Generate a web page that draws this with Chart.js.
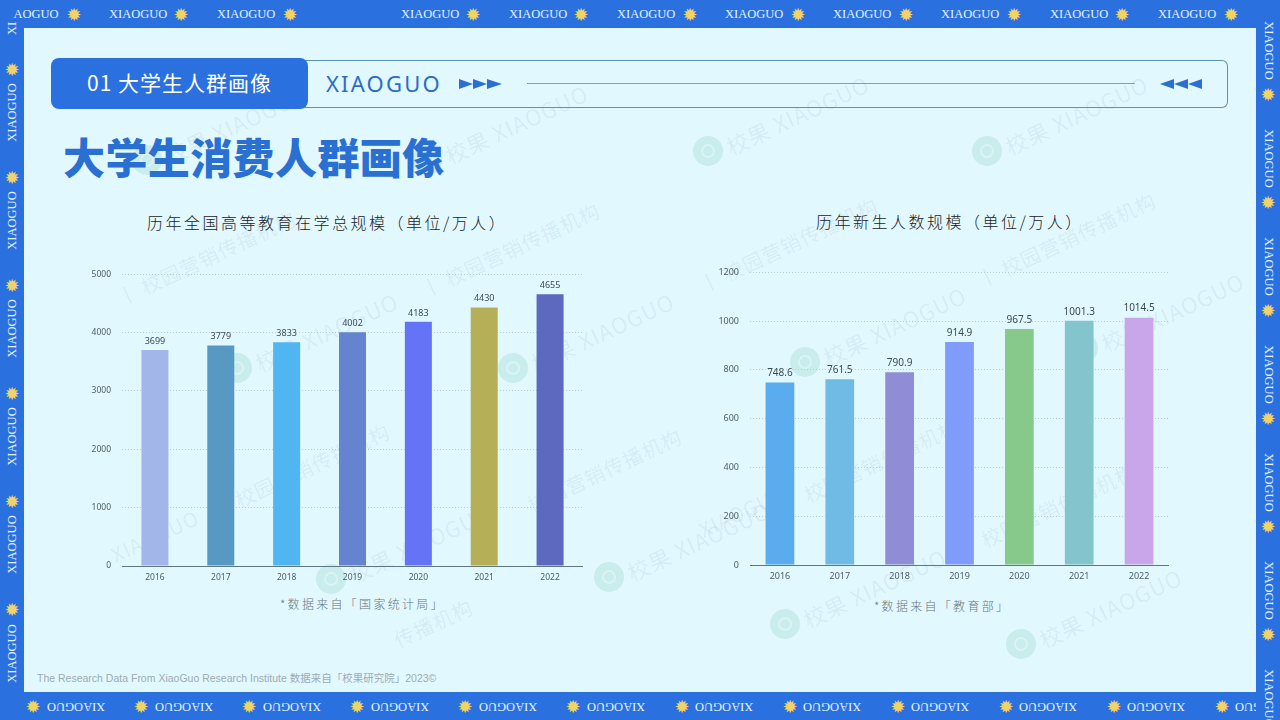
<!DOCTYPE html>
<html lang="zh">
<head>
<meta charset="utf-8">
<title>大学生消费人群画像</title>
<script src="https://cdn.jsdelivr.net/npm/chart.js@4"></script>
<style>
  html, body { margin: 0; padding: 0; }
  body { width: 1280px; height: 720px; overflow: hidden; position: relative; background: #2b70df;
         font-family: "Noto Sans CJK SC", "Noto Sans", sans-serif; }
  .abs { position: absolute; white-space: nowrap; }
  #panel { left: 24px; top: 28px; width: 1232px; height: 664px; background: #e2f8ff; }
  #bottomBand { left: 0; top: 692px; width: 1256px; height: 28px; overflow: hidden; }
  .tag { position: absolute; font: 12.5px "Liberation Serif", serif; color: #e4f4ff; white-space: nowrap; transform-origin: center; }
  .star { position: absolute; font: 18px "DejaVu Sans", sans-serif; color: #f1d468; transform-origin: center; }
  .mark { position: absolute; white-space: nowrap; font-size: 22px; color: rgba(95, 125, 140, 0.1); transform: rotate(-25deg); transform-origin: left center; letter-spacing: 1px; }
  .mark.long { font-size: 20px; }
  .logo { position: absolute; width: 30px; height: 30px; border-radius: 50%; background: rgba(105, 190, 165, 0.2); }
  .logo::after { content: ""; position: absolute; left: 8px; top: 8px; width: 10px; height: 10px; border: 2px solid rgba(230, 250, 250, 0.6); border-radius: 50%; }
  #pill { left: 51px; top: 58px; width: 257px; height: 51px; background: #2b70df; border-radius: 8px; color: #fff; font-size: 21px; letter-spacing: 1px; line-height: 49px; text-align: center; }
  #frame { left: 300px; top: 60px; width: 927px; height: 46px; border: 1px solid #5b93b4; border-radius: 6px; border-left: none; border-top-left-radius: 0; border-bottom-left-radius: 0; }
  #brand { left: 326px; top: 68px; font: 400 22px "Noto Sans", sans-serif; letter-spacing: 2.2px; color: #2c6cc6; }
  #rule { left: 527px; top: 83px; width: 608px; height: 1px; background: #67a9c8; }
  #heading { left: 63px; top: 128px; font-size: 42px; font-weight: 900; line-height: 56px; color: #2a6fd2; letter-spacing: 0.4px; }
  .chartTitle { font-size: 16px; font-weight: 300; color: #1a2226; letter-spacing: 2.5px; line-height: 22px; }
  .source { font-size: 12px; font-weight: 300; color: #68767d; letter-spacing: 2.3px; line-height: 18px; }
  #footer { left: 37px; top: 671px; font: 10.5px "Liberation Sans", "Noto Sans CJK SC", sans-serif; color: #9cabb3; line-height: 14px; }
  canvas { position: absolute; }
</style>
</head>
<body>
<div id="panel" class="abs"></div>
<div id="bottomBand" class="abs"></div>
<div id="marks"></div>

<div id="frame" class="abs"></div>
<div id="pill" class="abs">01 大学生人群画像</div>
<div id="brand" class="abs">XIAOGUO</div>
<div id="rule" class="abs"></div>
<svg class="abs" style="left:0;top:0" width="1280" height="120">
  <g fill="#2c6fd0">
    <path d="M459 79l14 5-14 5z M473 79l14 5-14 5z M487 79l15 5-15 5z"/>
    <path d="M1174 79l-14 5 14 5z M1188 79l-14 5 14 5z M1202 79l-14 5 14 5z"/>
  </g>
</svg>
<div id="heading" class="abs">大学生消费人群画像</div>

<div class="abs chartTitle" style="left:147px;top:211px">历年全国高等教育在学总规模（单位/万人）</div>
<div class="abs chartTitle" style="left:816px;top:210px">历年新生人数规模（单位/万人）</div>
<canvas id="studentsChart" width="493" height="332" style="left:90px;top:258px"></canvas>
<canvas id="freshmenChart" width="451" height="333" style="left:718px;top:256px"></canvas>
<div class="abs source" style="left:280px;top:595px">*数据来自「国家统计局」</div>
<div class="abs source" style="left:874px;top:597px">*数据来自「教育部」</div>
<div id="footer" class="abs">The Research Data From XiaoGuo Research Institute 数据来自「校果研究院」2023©</div>

<script>
// chart data
const years = ['2016', '2017', '2018', '2019', '2020', '2021', '2022'];
const studentTotals = [3699, 3779, 3833, 4002, 4183, 4430, 4655];
const freshmenTotals = [748.6, 761.5, 790.9, 914.9, 967.5, 1001.3, 1014.5];
const studentColors = ['#a3b6ea', '#5899c4', '#4fb6f2', '#6683cf', '#6573f7', '#b5b057', '#5d68bf'];
const freshmenColors = ['#5babef', '#70bbe5', '#908cd6', '#809cfb', '#87c98a', '#84c4cc', '#c9a6ea'];

// border decoration
function addTag(parent, text, cx, cy, rot) {
    const el = document.createElement('div');
    el.className = text === '✹' ? 'star' : 'tag';
    el.textContent = text;
    parent.appendChild(el);
    el.style.left = (cx - el.offsetWidth / 2) + 'px';
    el.style.top = (cy - el.offsetHeight / 2) + 'px';
    el.style.transform = 'rotate(' + rot + 'deg)';
}

const band = document.getElementById('bottomBand');
[138, 246, 430, 538, 646, 754, 862, 970, 1079, 1187].forEach(x => addTag(document.body, 'XIAOGUO', x, 14, 0));
addTag(document.body, 'AOGUO', 36, 14, 0);
[74, 181, 290, 473, 581, 690, 798, 906, 1014, 1122, 1231].forEach(x => addTag(document.body, '✹', x, 14, 0));
[76, 184, 292, 400, 508, 616, 724, 832, 940, 1048, 1156, 1264].forEach(x => addTag(band, 'XIAOGUO', x, 14, 180));
[33, 141, 249, 357, 465, 573, 682, 790, 898, 1006, 1114, 1222].forEach(x => addTag(band, '✹', x, 14, 0));
[112, 220, 328, 436, 544, 653].forEach(y => addTag(document.body, 'XIAOGUO', 12, y, -90));
addTag(document.body, 'XI', 12, 28, -90);
[69, 177, 285, 393, 501, 609].forEach(y => addTag(document.body, '✹', 12, y, 0));
[50, 158, 266, 374, 482, 590, 698].forEach(y => addTag(document.body, 'XIAOGUO', 1268, y, 90));
[94, 202, 310, 418, 526, 634].forEach(y => addTag(document.body, '✹', 1268, y, 0));

// faint watermark behind everything
const marksBox = document.getElementById('marks');
[[132, 160], [412, 160], [693, 151], [972, 151], [222, 368], [498, 368], [790, 362], [1068, 348],
 [316, 579], [594, 577], [770, 624], [1006, 644]].forEach(p => {
    const logo = document.createElement('div');
    logo.className = 'logo';
    logo.style.left = p[0] + 'px';
    logo.style.top = (p[1] - 15) + 'px';
    marksBox.appendChild(logo);
    const label = document.createElement('div');
    label.className = 'mark';
    label.textContent = '校果 XIAOGUO';
    label.style.left = (p[0] + 34) + 'px';
    label.style.top = (p[1] - 20) + 'px';
    marksBox.appendChild(label);
});
[[118, 298, '丨 校园营销传播机构'], [422, 290, '丨 校园营销传播机构'], [700, 285, '丨 校园营销传播机构'], [978, 280, '丨 校园营销传播机构'],
 [236, 500, '校园营销传播机构'], [528, 505, '校园营销传播机构'], [805, 495, '校园营销传播机构'], [982, 540, '校园营销传播机构'],
 [112, 555, 'XIAOGUO'], [395, 640, '传播机构'], [700, 530, 'XIAOGUO']].forEach(p => {
    const label = document.createElement('div');
    label.className = 'mark long';
    label.textContent = p[2];
    label.style.left = p[0] + 'px';
    label.style.top = (p[1] - 14) + 'px';
    marksBox.appendChild(label);
});

// writes the value above each bar
const barValueLabels = {
    id: 'barValueLabels',
    afterDatasetsDraw(chart, args, opts) {
        const ctx = chart.ctx;
        const values = chart.data.datasets[0].data;
        ctx.save();
        ctx.font = opts.size + 'px "Noto Sans", sans-serif';
        ctx.fillStyle = '#3c4a52';
        ctx.textAlign = 'center';
        ctx.textBaseline = 'bottom';
        chart.getDatasetMeta(0).data.forEach((bar, i) => {
            ctx.fillText(String(values[i]), bar.x, bar.y - 4);
        });
        ctx.restore();
    }
};

function makeBarChart(canvasId, values, colors, yMax, yStep, barShare, fontSize, labelSize) {
    const ctx = document.getElementById(canvasId).getContext('2d');
    new Chart(ctx, {
        type: 'bar',
        data: {
            labels: years,
            datasets: [{
                data: values,
                backgroundColor: colors,
                barPercentage: barShare,
                categoryPercentage: 1
            }]
        },
        options: {
            responsive: false,
            animation: false,
            layout: { padding: { top: 8, left: 0, right: 0, bottom: 0 } },
            plugins: {
                legend: { display: false },
                tooltip: { enabled: false },
                barValueLabels: { size: labelSize }
            },
            scales: {
                x: {
                    grid: { display: false, drawTicks: false },
                    border: { color: '#5f7683', width: 1 },
                    ticks: { color: '#4f5d65', padding: 6, maxRotation: 0, font: { family: 'Noto Sans', size: fontSize } },
                    afterFit(axis) { axis.height = 24; }
                },
                y: {
                    min: 0,
                    max: yMax,
                    grid: { color: '#b9ccd6', drawTicks: false },
                    border: { display: false, dash: [1, 2] },
                    ticks: {
                        stepSize: yStep,
                        color: '#4f5d65',
                        padding: 11,
                        font: { family: 'Noto Sans', size: fontSize },
                        callback: value => String(value)
                    },
                    afterFit(axis) { axis.width = 32; }
                }
            }
        },
        plugins: [barValueLabels]
    });
}

makeBarChart('studentsChart', studentTotals, studentColors, 5000, 1000, 0.41, 8.5, 9);
makeBarChart('freshmenChart', freshmenTotals, freshmenColors, 1200, 200, 0.48, 9, 10);
</script>
</body>
</html>
